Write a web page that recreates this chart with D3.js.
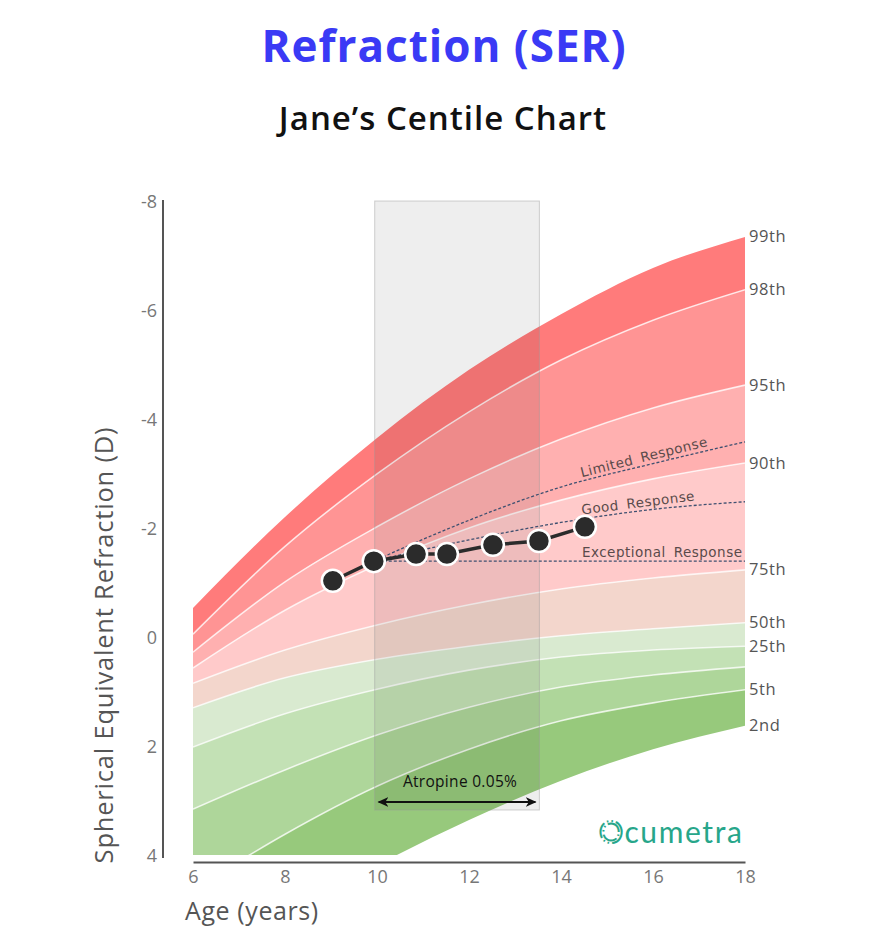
<!DOCTYPE html>
<html><head><meta charset="utf-8">
<script src="https://cdn.jsdelivr.net/npm/d3@7"></script>
<style>body{margin:0;background:#fff;} svg{display:block;}</style>
</head><body><svg id="chart" width="886" height="952"></svg>
<script>
// ---------- data ----------
const ages = [6, 8, 10, 12, 14, 16, 18];
const centileNames = ["99th", "98th", "95th", "90th", "75th", "50th", "25th", "10th", "5th", "2nd"];
const centileShown = [true, true, true, true, true, true, true, false, true, true];
const c99 = [-0.55, -2.22, -3.67, -4.92, -5.94, -6.79, -7.36];
const c98 = [-0.07, -1.68, -3.01, -4.15, -5.10, -5.83, -6.39];
const c95 = [0.26, -1.03, -2.04, -2.92, -3.65, -4.22, -4.64];
const c90 = [0.55, -0.51, -1.34, -2.02, -2.53, -2.92, -3.21];
const c75 = [0.83, 0.22, -0.24, -0.61, -0.90, -1.10, -1.25];
const c50 = [1.28, 0.73, 0.39, 0.15, -0.04, -0.17, -0.28];
const c25 = [2.00, 1.39, 0.94, 0.59, 0.35, 0.22, 0.15];
const c10 = [3.14, 2.42, 1.78, 1.27, 0.90, 0.68, 0.53];
const c05 = [4.62, 3.60, 2.72, 2.04, 1.52, 1.19, 0.95];
const c02 = [6.15, 5.10, 4.17, 3.34, 2.62, 2.04, 1.61];
const centiles = [c99, c98, c95, c90, c75, c50, c25, c10, c05, c02];
const bandColors = ["#ff7b7b", "#ff9494", "#ffb0b0", "#ffcaca", "#f3d6cc", "#d9ead0", "#c3e1b5", "#aed69a", "#97c97c"];

const visitAges = [9.04, 9.93, 10.85, 11.52, 12.52, 13.52, 14.52];
const visitSER  = [-1.05, -1.41, -1.54, -1.54, -1.71, -1.78, -2.04];

const responseAges = [9.93, 11, 12, 14, 16, 18];
const limitedResp     = [-1.41, -1.81, -2.16, -2.77, -3.20, -3.60];
const goodResp        = [-1.41, -1.62, -1.80, -2.12, -2.36, -2.50];
const exceptionalResp = [-1.41, -1.41, -1.41, -1.41, -1.41, -1.41];
const responseNames = ["Limited Response", "Good Response", "Exceptional Response"];

const atropineStart = 9.95, atropineEnd = 13.53;
const atropineLabel = "Atropine 0.05%";
const yTicks = [-8, -6, -4, -2, 0, 2, 4];
const xTicks = [6, 8, 10, 12, 14, 16, 18];

// ---------- drawing ----------
const svg = d3.select("#chart");
const x = d3.scaleLinear().domain([6, 18]).range([193, 745]);
const y = d3.scaleLinear().domain([-8, 4]).range([202, 856]);
const FONT = "'Open Sans', 'Noto Sans', sans-serif";

svg.append("text").attr("x", 444).attr("y", 62).attr("text-anchor", "middle")
  .attr("font-family", FONT).attr("font-weight", 700).attr("font-size", 44)
  .attr("letter-spacing", 1).attr("fill", "#3a3af5").text("Refraction (SER)");
svg.append("text").attr("x", 443).attr("y", 130).attr("text-anchor", "middle")
  .attr("font-family", FONT).attr("font-weight", 600).attr("font-size", 33)
  .attr("letter-spacing", 1).attr("fill", "#111").text("Jane\u2019s Centile Chart");

const defs = svg.append("defs");
defs.append("clipPath").attr("id", "plotclip").append("rect")
  .attr("x", x(6)).attr("y", 0).attr("width", x(18) - x(6)).attr("height", y(4) - 1);

const g = svg.append("g").attr("clip-path", "url(#plotclip)");
const area = d3.area().x((d, i) => x(ages[i])).curve(d3.curveMonotoneX);
for (let b = 0; b < centiles.length - 1; b++) {
  const top = centiles[b], bot = centiles[b + 1];
  g.append("path").datum(ages)
    .attr("d", area.y0((d, i) => y(bot[i])).y1((d, i) => y(top[i])))
    .attr("fill", bandColors[b]);
}
const line = d3.line().curve(d3.curveMonotoneX);
for (let k = 1; k < centiles.length - 1; k++) {
  g.append("path")
    .attr("d", line(ages.map((a, i) => [x(a), y(centiles[k][i])])))
    .attr("fill", "none").attr("stroke", "#fff").attr("stroke-opacity", 0.75).attr("stroke-width", 1.6);
}

// atropine box
svg.append("rect").attr("x", x(atropineStart)).attr("y", 201)
  .attr("width", x(atropineEnd) - x(atropineStart)).attr("height", 810 - 201)
  .attr("fill", "#000").attr("fill-opacity", 0.065)
  .attr("stroke", "#999").attr("stroke-opacity", 0.45).attr("stroke-width", 1);
const mk = defs.append("marker").attr("id", "ah").attr("viewBox", "0 0 10 10")
  .attr("refX", 8).attr("refY", 5).attr("markerWidth", 6).attr("markerHeight", 6)
  .attr("orient", "auto-start-reverse");
mk.append("path").attr("d", "M0,1 L9,5 L0,9 L2.5,5 Z").attr("fill", "#111");
svg.append("line").attr("x1", x(atropineStart) + 4).attr("x2", x(atropineEnd) - 4)
  .attr("y1", 802).attr("y2", 802).attr("stroke", "#111").attr("stroke-width", 2)
  .attr("marker-start", "url(#ah)").attr("marker-end", "url(#ah)");
svg.append("text").attr("x", (x(atropineStart) + x(atropineEnd)) / 2 + 3).attr("y", 787)
  .attr("text-anchor", "middle").attr("font-family", FONT).attr("font-size", 15.5)
  .attr("letter-spacing", 0.3).attr("fill", "#111").text(atropineLabel);

// response curves
const responses = [limitedResp, goodResp, exceptionalResp];
const respLabelAge = [15.85, 15.7, 16.2];
responses.forEach((r, k) => {
  svg.append("path").attr("d", d3.line().curve(d3.curveMonotoneX)(responseAges.map((a, i) => [x(a), y(r[i])])))
    .attr("fill", "none").attr("stroke", "#3f5070").attr("stroke-width", 1.3)
    .attr("stroke-dasharray", "3,2");
  const interp = a => {
    let i = d3.bisectRight(responseAges, a) - 1; i = Math.max(0, Math.min(i, responseAges.length - 2));
    const t = (a - responseAges[i]) / (responseAges[i + 1] - responseAges[i]);
    return r[i] + t * (r[i + 1] - r[i]);
  };
  const a = respLabelAge[k];
  const p0 = [x(a - 0.8), y(interp(a - 0.8))], p1 = [x(a + 0.8), y(interp(a + 0.8))];
  const ang = Math.atan2(p1[1] - p0[1], p1[0] - p0[0]) * 180 / Math.PI;
  const cx = x(a), cy = y(interp(a));
  svg.append("text").attr("transform", `translate(${cx},${cy}) rotate(${ang}) translate(0,-4)`)
    .attr("text-anchor", "middle").attr("font-family", "'DejaVu Sans', sans-serif")
    .attr("font-size", 13.5).attr("letter-spacing", 0.5).attr("word-spacing", 3)
    .attr("fill", "#5a4a4a").text(responseNames[k]);
});

// axes
const yAxis = d3.axisLeft(y).tickValues(yTicks).tickSize(0).tickPadding(6).tickFormat(d => String(d));
const ya = svg.append("g").attr("transform", "translate(163,0)").call(yAxis);
ya.select(".domain").attr("stroke", "#555").attr("stroke-width", 2).attr("d", "M0,200V858");
ya.selectAll("text").attr("font-family", FONT).attr("font-size", 18).attr("fill", "#777");

const xAxis = d3.axisBottom(x).tickValues(xTicks).tickSize(0).tickPadding(8).tickFormat(d => String(d));
const xa = svg.append("g").attr("transform", "translate(0,862)").call(xAxis);
xa.select(".domain").attr("stroke", "#555").attr("stroke-width", 2);
xa.selectAll("text").attr("font-family", FONT).attr("font-size", 18).attr("fill", "#777");

svg.append("text").attr("x", 185).attr("y", 920).attr("font-family", FONT).attr("font-size", 25)
  .attr("letter-spacing", 0.6).attr("fill", "#555").text("Age (years)");
svg.append("text").attr("transform", "translate(113,645) rotate(-90)").attr("text-anchor", "middle")
  .attr("font-family", FONT).attr("font-size", 25.5).attr("letter-spacing", 0.8).attr("fill", "#555")
  .text("Spherical Equivalent Refraction (D)");

// centile labels
centileNames.forEach((n, k) => {
  if (!centileShown[k]) return;
  svg.append("text").attr("x", 749).attr("y", y(centiles[k][ages.length - 1]) - 1)
    .attr("dominant-baseline", "central").attr("font-family", FONT).attr("font-size", 16.5)
    .attr("letter-spacing", 0.6).attr("fill", "#555").text(n);
});

// visits
svg.append("path").attr("d", d3.line()(visitAges.map((a, i) => [x(a), y(visitSER[i])])))
  .attr("fill", "none").attr("stroke", "#2b2b2b").attr("stroke-width", 3.5);
svg.selectAll("circle.v").data(visitAges).join("circle").attr("class", "v")
  .attr("cx", (d) => x(d)).attr("cy", (d, i) => y(visitSER[i])).attr("r", 11)
  .attr("fill", "#2b2b2b").attr("stroke", "#fff").attr("stroke-width", 2.5);

// logo
const logo = svg.append("text").attr("x", 599).attr("y", 843).attr("font-family", "Lato, sans-serif")
  .attr("font-size", 30).attr("fill", "#27a68a").attr("letter-spacing", 1.6);
logo.append("tspan").attr("fill", "none").attr("stroke", "#27a68a").attr("stroke-width", 2)
  .attr("stroke-dasharray", "16,3,1.5,3,1.5,3").text("O");
logo.append("tspan").text("cumetra");
</script></body></html>
